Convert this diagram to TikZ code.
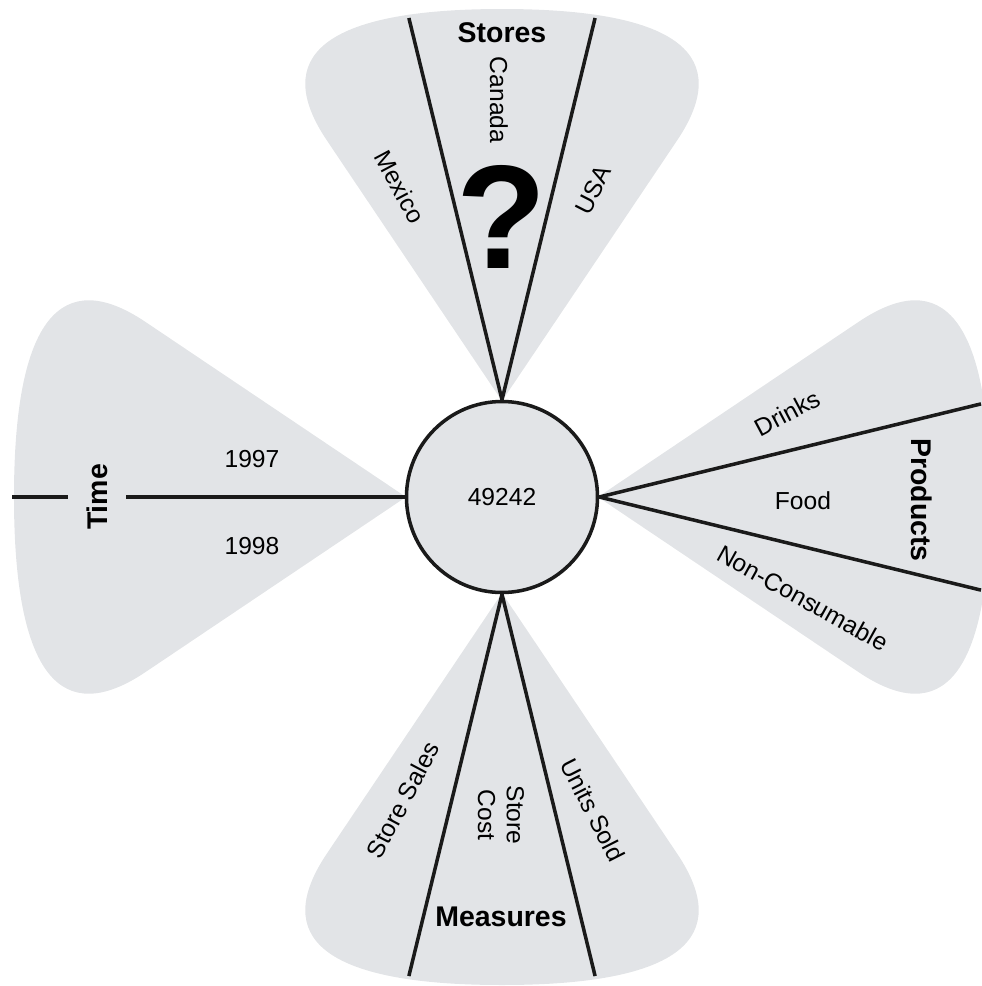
\documentclass[tikz,border=0pt]{standalone}
\usepackage{fontspec}
\setmainfont{Liberation Sans}
\usepackage{tikz}
\usetikzlibrary{positioning}
\definecolor{cubegray}{RGB}{226,228,231}
\definecolor{cubeline}{RGB}{26,26,26}
\newcommand{\memberfont}{\fontsize{7}{8.2}\selectfont}
\newcommand{\dimfont}{\fontsize{8.1}{9}\selectfont\bfseries}
\tikzset{
  %% ---- shapes ----
  petal/.style    = {fill=cubegray},
  hub/.style      = {circle, draw=cubeline, line width=1pt, fill=cubegray,
                     minimum size=1.91cm, inner sep=0pt, font=\memberfont},
  divider/.style  = {draw=cubeline, line width=1pt},
  %% ---- labels ----
  member/.style   = {font=\memberfont, inner sep=1pt, rotate=#1},
  member/.default = 0,
  dimname/.style  = {font=\dimfont, inner sep=1pt, rotate=#1},
  dimname/.default = 0,
}

\begin{document}
\begin{tikzpicture}
  \useasboundingbox (-5.02,-4.89) rectangle (4.80,4.97);

  %% one petal per dimension
  \foreach \rot in {0,-90,180,90}
    \fill[petal, rotate=\rot] (0,0.96) -- (-1.754,3.57)
      .. controls (-2.309,4.40) and (-1.80,4.88) .. (0,4.88)
      .. controls (1.80,4.88) and (2.309,4.40) .. (1.754,3.57) -- cycle;

  \node[hub] (hub) at (0,0) {49242};

  %% Stores
  \node[dimname] (stores) at (0,4.64) {Stores};
  \node[member=-90] (canada) at (-0.03,3.97) {Canada};
  \node[member=-62] (mexico) at (-1.02,3.10) {Mexico};
  \node[member=63] (usa) at (0.91,3.07) {USA};
  \node[font=\fontsize{42}{42}\selectfont\bfseries, inner sep=0pt]
    (unknown) at (0,2.80) {?};

  %% Products
  \node[dimname=-90] (products) at (4.20,-0.03) {Products};
  \node[member=28] (drinks) at (2.85,0.84) {Drinks};
  \node[member] (food) at (3.01,-0.04) {Food};
  \node[member=-29] (noncons) at (3.01,-1.01) {Non-Consumable};

  %% Measures
  \node[dimname] (measures) at (-0.01,-4.20) {Measures};
  \node[member=62] (sales) at (-0.99,-3.03) {Store Sales};
  \node[member=-90, align=center] (cost) at (-0.01,-3.18) {Store\\Cost};
  \node[member=-63] (units) at (0.91,-3.13) {Units Sold};

  %% Time
  \node[dimname=90, inner ysep=0.18cm] (time) at (-4.05,0) {Time};
  \node[member] (y1997) at (-2.50,0.38) {1997};
  \node[member, below=0.61cm of y1997] (y1998) {1998};

  %% dividers
  \foreach \side/\a in {top/90, right/0, bottom/-90} {
    \coordinate (\side-a) at ({\a+11}:4.88);
    \coordinate (\side-b) at ({\a-11}:4.88);
    \draw[divider] (hub.\a) -- (\side-a);
    \draw[divider] (hub.\a) -- (\side-b);
  }
  \coordinate (left-a) at (180:4.90);
  \draw[divider] (hub.180) -- (time.south);
  \draw[divider] (time.north) -- (left-a);

\end{tikzpicture}
\end{document}
